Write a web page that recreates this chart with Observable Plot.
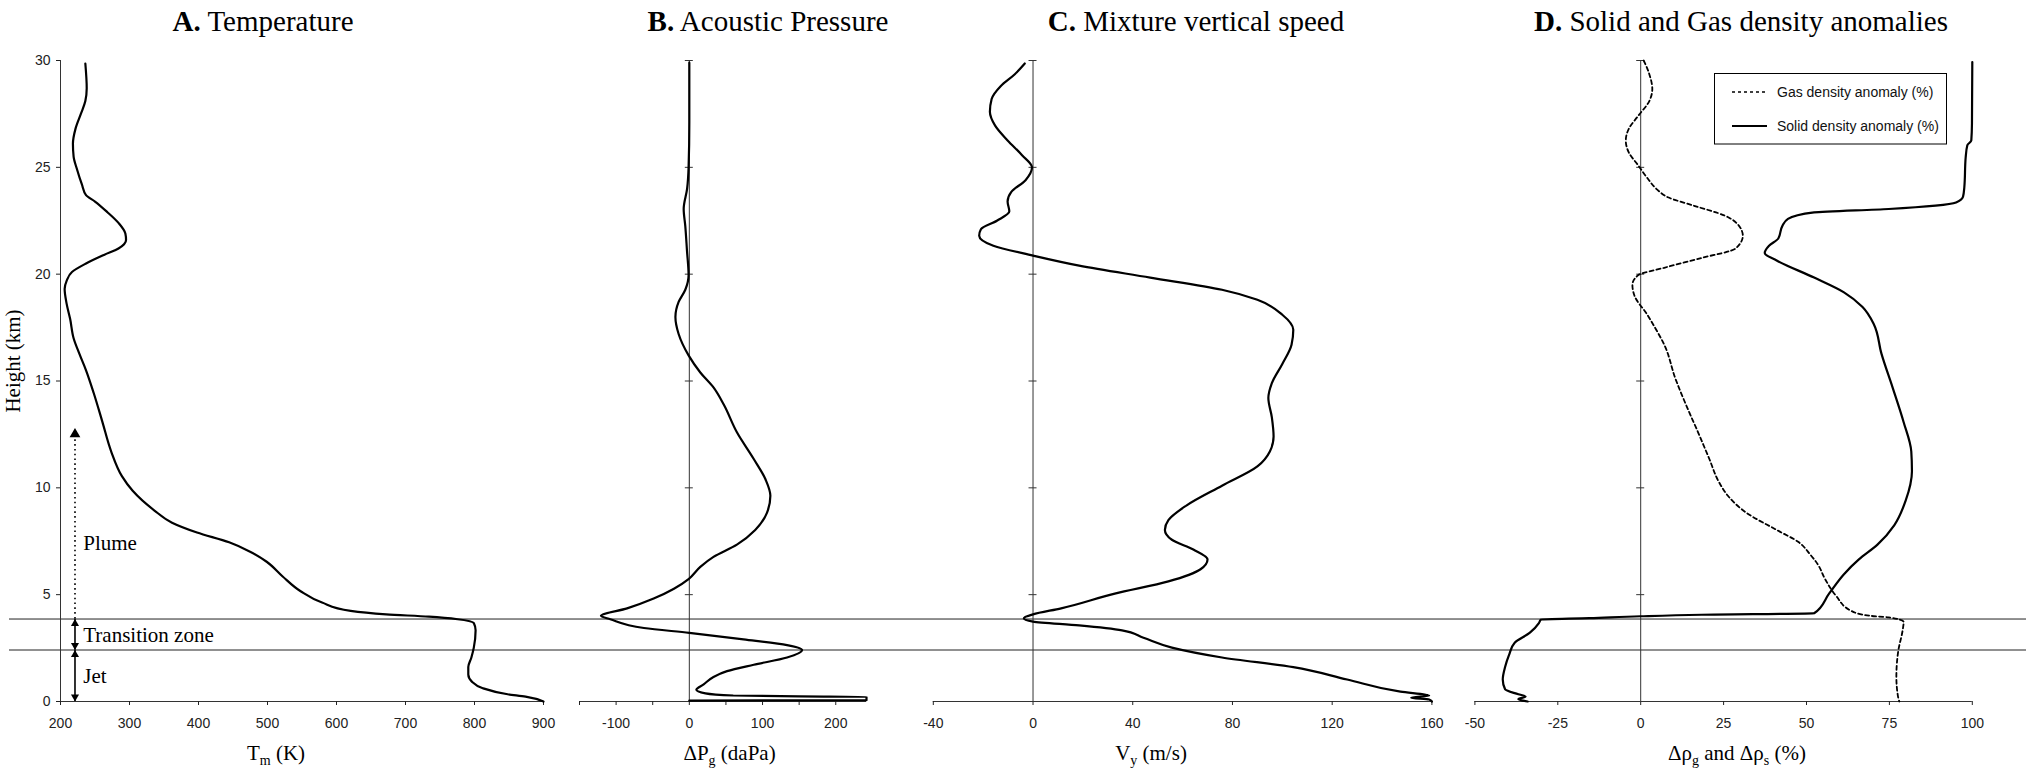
<!DOCTYPE html>
<html>
<head>
<meta charset="utf-8">
<script src="https://cdn.jsdelivr.net/npm/d3@7"></script>
<script src="https://cdn.jsdelivr.net/npm/@observablehq/plot@0.6"></script>
<style>
html,body{margin:0;padding:0;background:#fff;}
#fig{position:relative;width:2026px;height:770px;overflow:hidden;background:#fff;}
#fig > div{position:absolute;top:0;}
#overlay{position:absolute;left:0;top:0;pointer-events:none;}
</style>
</head>
<body>
<div id="fig"></div>
<script>
// ---------------- data ----------------
const yTicks = [0, 5, 10, 15, 20, 25, 30];
const zoneLevelsKm = [3.86, 2.41];

// A. Temperature
const tempKm = [29.86,28.7,28.1,27.5,26.8,26.1,25.5,24.9,24.2,23.7,23.4,22.9,22.4,21.9,21.6,21.2,20.9,20.5,20.1,19.7,19.3,18.6,17.9,17.0,16.3,15.5,14.45,13.1,11.7,10.55,9.86,8.95,8.37,7.91,7.45,7.0,6.54,5.85,5.16,4.63,4.24,4.08,3.97,3.85,3.67,3.33,2.52,2.06,1.61,1.26,0.92,0.62,0.34,0.23,0];
const tempK = [236,238,236,229.5,221.7,218,219,224,231,237,250,268,284,294,295,284,263,237,216.6,209,206,209,214,219,227,237,248,260.6,273.5,289,304.6,335.7,361.6,397.8,444.4,475.5,498.8,522,548,579,620.5,672,734,775.6,799,801.6,799,795.5,791,791,796.5,812,848,874,900];
const tempTicks = [200,300,400,500,600,700,800,900];

// B. Acoustic pressure
const presKm = [29.9,27.1,25.0,24.0,23.05,22.25,21.1,19.95,19.27,18.7,18.0,17.2,16.2,15.4,14.7,13.9,12.6,11.35,10.4,9.63,8.83,8.03,7.34,6.77,6.3,5.73,5.28,4.82,4.36,4.01,3.85,3.44,3.21,2.91,2.64,2.41,2.06,1.72,1.42,1.15,0.80,0.55,0.38,0.28,0.24,0.22,0.06,0.04];
const presDaPa = [0,0,-1,-3,-7.7,-5.5,-3.2,-1,-5.5,-14.6,-19,-14.6,-1,15,33,47,65,88,104,110.7,106,90,65,33,15,-1,-21,-48.7,-85,-120.7,-108,-62,0,74,133.5,154,133.5,88,51.5,33,19.6,9.6,22,60,150,242,242,0];
const presTicks = [-150,-100,-50,0,50,100,150,200];
const presLabelled = [-100,0,100,200];

// C. Mixture vertical speed
const speedKm = [29.86,29.36,28.8,28.2,27.6,26.95,26.26,25.57,25.0,24.4,23.85,23.4,22.94,22.5,22.1,21.8,21.33,20.87,20.4,19.84,19.27,18.8,18.1,17.4,16.7,15.8,14.9,14.2,13.3,12.4,11.7,11.0,10.1,9.17,8.49,8.03,7.57,7.11,6.65,6.19,5.62,5.05,4.36,4.08,3.9,3.74,3.56,3.33,2.98,2.52,2.06,1.61,1.03,0.46,0.28,0.18,0.09,0];
const speedMs = [-3.3,-7.3,-13,-16.6,-17.3,-15.2,-10.2,-4.4,-0.4,-3,-8.7,-10.2,-9.5,-14.5,-20.9,-21.6,-15.9,0,18.5,47,75.8,90,100,104.4,103.7,100,95.8,94.4,95.8,96.5,95,90,75.8,61.5,54.3,52.9,55.7,64.3,70,67.2,54.3,32.8,11.3,0,-3.7,0,18.5,35.7,44.3,55.7,75.8,104.4,126,147.4,158.9,151.7,158.9,160];
const speedTicks = [-40,0,40,80,120,160];

// D. Solid and gas density anomalies
const gasKm = [30.0,29.36,28.67,28.1,27.4,26.8,26.26,25.7,25.1,24.5,23.97,23.6,23.2,22.75,22.25,21.8,21.2,20.76,20.3,19.95,19.5,19.0,18.1,17.5,16.7,15.1,13.8,12.6,11.35,10.3,9.63,8.83,8.03,7.45,6.88,6.42,5.73,4.93,4.24,4.01,3.94,3.72,3.44,2.29,1.15,0.23,0];
const gasPct = [0.9,2.6,3.5,2.6,-0.8,-3.6,-4.5,-3.6,-0.8,2,4.9,8.2,16.1,25.2,29.7,30.8,28.6,18.4,7.1,-0.8,-2.5,-1.9,2,4.3,7.1,10.5,13.9,17.3,20.7,23.5,26.3,31.9,41,47.7,51.1,53.4,55.6,59,63.5,69.2,74.8,79.3,79.1,77.6,77.1,77.6,78];
const solidKm = [29.93,27.06,26.26,26.03,25.46,24.08,23.62,23.35,23.05,22.89,22.59,22.25,21.67,21.33,20.99,20.64,19.84,19.15,18.46,17.66,16.28,14.68,13.07,11.7,10.78,9.4,8.26,7.34,6.65,5.96,5.05,4.13,4.06,3.99,3.9,3.83,3.67,3.21,2.75,2.18,1.61,1.03,0.57,0.34,0.23,0.11,0];
const solidPct = [100,99.9,99.7,98.5,98,97.6,97.2,95.1,74.8,52.3,44.4,42.7,41.5,38.7,37.4,41,52.3,61.3,66.9,70.3,72.6,76,79.3,81.6,81.8,79.9,76.5,71.4,65.8,61.3,56.8,52.3,18.4,0,-15.5,-30.1,-30.7,-33.5,-38,-39.7,-40.9,-41.6,-40.9,-36.9,-34.7,-36.9,-34.1];
const densTicks = [-50,-25,0,25,50,75,100];

// Panel A annotations
const zoneNames = ["Plume", "Transition zone", "Jet"];
const zoneLabelKm = [7.4, 3.1, 1.17];
const zoneLabelK = 233;
const arrowK = 221;
const plumeShaftKm = [3.86, 12.3];
const plumeHeadKm = [12.8];
const headUpKm = [3.86, 2.41];
const headDownKm = [2.41, 0];
const solidShafts = [[0, 2.41], [2.41, 3.86]];

// Texts
const panelTitles = [["A.", " Temperature"], ["B.", " Acoustic Pressure"], ["C.", " Mixture vertical speed"], ["D.", " Solid and Gas density anomalies"]];
const xAxisTitles = [["T", "m", " (K)"], ["ΔP", "g", " (daPa)"], ["V", "y", " (m/s)"], ["Δρ", "g", " and Δρ", "s", " (%)"]];
const yAxisTitle = "Height (km)";
const legendNames = ["Gas density anomaly (%)", "Solid density anomaly (%)"];

// ---------------- helpers ----------------
const toRows = (hs, vs) => hs.map((h, i) => ({h, v: vs[i]}));
const H = 770, MT = 60, MB = 69;
const AXIS = "#333";
const baseStyle = {background: "transparent", overflow: "visible", fontFamily: "'Liberation Sans', Arial, sans-serif", fontSize: "14px", color: "#222"};
const serif = "'Liberation Serif', 'Times New Roman', serif";
const fig = document.getElementById("fig");

function addPanel(left, width, plot) {
  const d = document.createElement("div");
  d.style.left = left + "px";
  d.style.width = width + "px";
  d.appendChild(plot);
  fig.appendChild(d);
}

function zeroAxisMarks() {
  return [
    Plot.ruleX([0], {stroke: AXIS, strokeWidth: 1}),
    Plot.ruleY(yTicks, {x1: 0, x2: 0, insetLeft: -4, insetRight: -4, stroke: AXIS, strokeWidth: 1})
  ];
}

function panel({width, ml, mr, domain, ticks, fmt, extraMarks}) {
  return Plot.plot({
    width, height: H, marginLeft: ml, marginRight: mr, marginTop: MT, marginBottom: MB,
    x: {domain, label: null},
    y: {domain: [0, 30], label: null, axis: null},
    style: baseStyle,
    marks: [
      Plot.ruleY(zoneLevelsKm, {stroke: "#222", strokeWidth: 1, insetLeft: -ml, insetRight: -mr}),
      Plot.ruleY([0], {stroke: AXIS, strokeWidth: 1}),
      Plot.axisX({ticks, tickSize: 4, tickPadding: 13, tickFormat: fmt, label: null}),
      ...extraMarks
    ]
  });
}

const lineOpts = {x: "v", y: "h", curve: "monotone-y", stroke: "#000", strokeWidth: 2.2};

// ---------------- Panel A ----------------
addPanel(0, 560, Plot.plot({
  width: 560, height: H, marginLeft: 60, marginRight: 17, marginTop: MT, marginBottom: MB,
  x: {domain: [200, 900], label: null},
  y: {domain: [0, 30], label: null},
  style: baseStyle,
  marks: [
    Plot.ruleY(zoneLevelsKm, {stroke: "#222", strokeWidth: 1, insetLeft: -51, insetRight: -17}),
    Plot.ruleY([0], {stroke: AXIS, strokeWidth: 1}),
    Plot.ruleX([200], {stroke: AXIS, strokeWidth: 1}),
    Plot.axisX({ticks: tempTicks, tickSize: 4, tickPadding: 13, tickFormat: d => String(d), label: null}),
    Plot.axisY({ticks: yTicks, tickSize: 4, tickPadding: 6, tickFormat: d => String(d), label: null}),
    // arrows
    Plot.ruleX([arrowK], {y1: plumeShaftKm[0], y2: plumeShaftKm[1], stroke: "#000", strokeWidth: 1.6, strokeDasharray: "1.6,3.2"}),
    Plot.ruleX(solidShafts, {x: () => arrowK, y1: d => d[0], y2: d => d[1], stroke: "#000", strokeWidth: 1.6}),
    Plot.dot(plumeHeadKm, {x: () => arrowK, y: d => d, symbol: "triangle", r: 4, fill: "#000", stroke: "none", dy: 6.2}),
    Plot.dot(headUpKm, {x: () => arrowK, y: d => d, symbol: "triangle", r: 3, fill: "#000", stroke: "none", dy: 4.7}),
    Plot.dot(headDownKm, {x: () => arrowK, y: d => d, symbol: "triangle", r: 3, rotate: 180, fill: "#000", stroke: "none", dy: -4.7}),
    Plot.text(zoneNames, {x: () => zoneLabelK, y: (d, i) => zoneLabelKm[i], text: d => d, textAnchor: "start", fontFamily: serif, fontSize: 21, fill: "#000"}),
    Plot.line(toRows(tempKm, tempK), lineOpts)
  ]
}));

// ---------------- Panel B ----------------
addPanel(560, 340, panel({
  width: 340, ml: 19, mr: 34, domain: [-150, 242], ticks: presTicks,
  fmt: d => presLabelled.includes(d) ? String(d) : "",
  extraMarks: [...zeroAxisMarks(), Plot.line(toRows(presKm, presDaPa), lineOpts)]
}));

// ---------------- Panel C ----------------
addPanel(900, 560, panel({
  width: 560, ml: 32.8, mr: 28.6, domain: [-40, 160], ticks: speedTicks,
  fmt: d => String(d),
  extraMarks: [...zeroAxisMarks(), Plot.line(toRows(speedKm, speedMs), lineOpts)]
}));

// ---------------- Panel D ----------------
addPanel(1460, 566, panel({
  width: 566, ml: 14.4, mr: 54.2, domain: [-50, 100], ticks: densTicks,
  fmt: d => String(d),
  extraMarks: [
    ...zeroAxisMarks(),
    Plot.line(toRows(gasKm, gasPct), {...lineOpts, strokeWidth: 1.8, strokeDasharray: "4,3"}),
    Plot.line(toRows(solidKm, solidPct), lineOpts)
  ]
}));

// ---------------- text overlay (titles, axis titles, legend) ----------------
const svg = d3.create("svg").attr("id", "overlay").attr("width", 2026).attr("height", 770);
const titleX = [263, 768, 1196, 1741];
panelTitles.forEach(([b, r], i) => {
  const t = svg.append("text").attr("x", titleX[i]).attr("y", 30.7).attr("text-anchor", "middle")
    .attr("font-family", serif).attr("font-size", 29).attr("fill", "#000").style("white-space", "pre");
  t.append("tspan").attr("font-weight", "bold").text(b);
  t.append("tspan").text(r);
});

const xTitleX = [276, 729.5, 1151, 1737];
xAxisTitles.forEach((parts, i) => {
  const t = svg.append("text").attr("x", xTitleX[i]).attr("y", 760).attr("text-anchor", "middle")
    .attr("font-family", serif).attr("font-size", 21).attr("fill", "#000").style("white-space", "pre");
  parts.forEach((p, j) => {
    const s = t.append("tspan").text(p);
    if (j % 2 === 1) s.attr("dy", 5).attr("font-size", 14);
    else if (j > 0) s.attr("dy", -5);
  });
});

svg.append("text").attr("transform", "translate(20,361) rotate(-90)").attr("text-anchor", "middle")
  .attr("font-family", serif).attr("font-size", 21).attr("fill", "#000").text(yAxisTitle);

// legend
const lg = svg.append("g");
lg.append("rect").attr("x", 1714.5).attr("y", 73.5).attr("width", 232).attr("height", 70.5)
  .attr("fill", "#fff").attr("stroke", "#000").attr("stroke-width", 1);
const legendY = [92, 126];
legendNames.forEach((name, i) => {
  lg.append("line").attr("x1", 1732).attr("x2", 1767).attr("y1", legendY[i]).attr("y2", legendY[i])
    .attr("stroke", "#000").attr("stroke-width", i === 0 ? 1.5 : 2).attr("stroke-dasharray", i === 0 ? "3,3" : null);
  lg.append("text").attr("x", 1777).attr("y", legendY[i] + 5).attr("font-family", "'Liberation Sans', Arial, sans-serif")
    .attr("font-size", 14).attr("fill", "#111").text(name);
});

fig.appendChild(svg.node());
</script>
</body>
</html>
